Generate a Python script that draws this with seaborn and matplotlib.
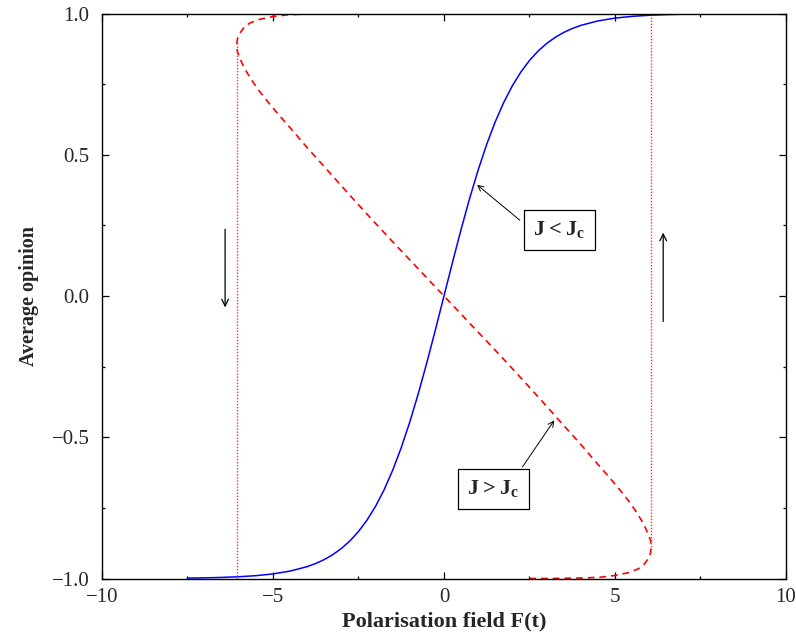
import matplotlib
matplotlib.use("Agg")
import matplotlib.pyplot as plt
import seaborn as sns
import pandas as pd
from matplotlib.ticker import MultipleLocator, FuncFormatter

# Mean opinion versus polarisation field, below the critical coupling (J < Jc)
field_weak = [-7.5, -7.0, -6.5, -6.0, -5.5, -5.0, -4.5, -4.0, -3.75, -3.5, -3.25,
              -3.0, -2.75, -2.5, -2.25, -2.0, -1.75, -1.5, -1.25, -1.0, -0.75,
              -0.5, -0.25, 0.0, 0.25, 0.5, 0.75, 1.0, 1.25, 1.5, 1.75, 2.0, 2.25,
              2.5, 2.75, 3.0, 3.25, 3.5, 3.75, 4.0, 4.5, 5.0, 5.5, 6.0, 6.5, 7.0, 7.5]
opinion_weak = [-0.9985, -0.9976, -0.9961, -0.9937, -0.9899, -0.9837, -0.9737,
                -0.9579, -0.9468, -0.9329, -0.9154, -0.8937, -0.8668, -0.8337,
                -0.7932, -0.7443, -0.6858, -0.6169, -0.5370, -0.4462, -0.3452,
                -0.2355, -0.1194, 0.0, 0.1194, 0.2355, 0.3452, 0.4462, 0.5370,
                0.6169, 0.6858, 0.7443, 0.7932, 0.8337, 0.8668, 0.8937, 0.9154,
                0.9329, 0.9468, 0.9579, 0.9737, 0.9837, 0.9899, 0.9937, 0.9961,
                0.9976, 0.9985]

# Above the critical coupling (J > Jc): the S-shaped branch, traced in order
field_strong = [2.50, 3.30, 4.12, 4.60, 5.01, 5.40, 5.68, 5.85, 5.97, 6.04, 6.06,
                6.04, 5.97, 5.88, 5.78, 5.60, 5.39, 5.10, 4.80, 4.40, 4.00, 3.50,
                3.00, 2.50, 2.00, 1.50, 1.00, 0.50, 0.00,
                -0.50, -1.00, -1.50, -2.00, -2.50, -3.00, -3.50, -4.00, -4.40,
                -4.80, -5.10, -5.39, -5.60, -5.78, -5.88, -5.97, -6.04, -6.06,
                -6.04, -5.97, -5.85, -5.68, -5.40, -5.01, -4.60, -4.12, -3.30, -2.50]
opinion_strong = [-1.000, -0.9996, -0.998, -0.995, -0.989, -0.979, -0.966, -0.950,
                  -0.930, -0.910, -0.890, -0.865, -0.842, -0.818, -0.795, -0.760,
                  -0.724, -0.680, -0.637, -0.582, -0.525, -0.458, -0.390, -0.323,
                  -0.257, -0.192, -0.128, -0.064, 0.000,
                  0.064, 0.128, 0.192, 0.257, 0.323, 0.390, 0.458, 0.525, 0.582,
                  0.637, 0.680, 0.724, 0.760, 0.795, 0.818, 0.842, 0.865, 0.890,
                  0.910, 0.930, 0.950, 0.966, 0.979, 0.989, 0.995, 0.998, 0.9996, 1.000]

# Jumps of the hysteresis loop
jump_fields = [-6.06, 6.06]
jump_low = [-1.0, -0.89]
jump_high = [0.90, 1.0]

sns.set_style("ticks")
plt.rcParams["font.family"] = ["Liberation Serif", "DejaVu Serif"]
plt.rcParams["mathtext.fontset"] = "custom"
plt.rcParams["mathtext.bf"] = "Liberation Serif:bold"
plt.rcParams["mathtext.rm"] = "Liberation Serif"

fig = plt.figure(figsize=(7.96, 6.34), dpi=100)
ax = fig.add_axes([0.1281, 0.0875, 0.8593, 0.8912])

weak = pd.DataFrame({"F": field_weak, "m": opinion_weak})
strong = pd.DataFrame({"F": field_strong, "m": opinion_strong})

sns.lineplot(data=weak, x="F", y="m", sort=False, estimator=None, ax=ax,
             color="#0000ff", lw=1.1)
sns.lineplot(data=strong, x="F", y="m", sort=False, estimator=None, ax=ax,
             color="#ff0000", lw=1.2, linestyle=(0, (4, 3)))

for xf, lo, hi in zip(jump_fields, jump_low, jump_high):
    ax.vlines(xf, lo, hi, colors="#ff3030", linestyles=(0, (1, 1.2)), lw=1.0)

# Direction of sweep on each jump
arrow_kw = dict(arrowstyle="->", color="black", lw=0.9, mutation_scale=12)
ax.annotate("", xy=(-6.4, -0.05), xytext=(-6.4, 0.246), arrowprops=arrow_kw)
ax.annotate("", xy=(6.41, 0.234), xytext=(6.41, -0.10), arrowprops=arrow_kw)

# Labels for the two regimes
lab_kw = dict(arrowstyle="->", color="black", lw=0.7, mutation_scale=10)
ax.annotate("", xy=(0.906, 0.40), xytext=(2.28, 0.262), arrowprops=lab_kw)
ax.annotate("", xy=(3.27, -0.432), xytext=(2.25, -0.613), arrowprops=lab_kw)
box = dict(boxstyle="square,pad=0.42", fc="white", ec="black", lw=0.9)
ax.text(3.38, 0.234, r"$\mathbf{J < J_c}$", ha="center", va="center",
        fontsize=16, bbox=box)
ax.text(1.44, -0.683, r"$\mathbf{J > J_c}$", ha="center", va="center",
        fontsize=16, bbox=box)

ax.set_xlim(-10, 10)
ax.set_ylim(-1, 1)
ax.xaxis.set_major_locator(MultipleLocator(5))
ax.xaxis.set_minor_locator(MultipleLocator(2.5))
ax.yaxis.set_major_locator(MultipleLocator(0.5))
ax.yaxis.set_minor_locator(MultipleLocator(0.25))
ax.xaxis.set_major_formatter(FuncFormatter(lambda v, p: f"{v:.0f}".replace("-", "\u2212")))
ax.yaxis.set_major_formatter(FuncFormatter(lambda v, p: f"{v:.1f}".replace("-", "\u2212")))
ax.tick_params(which="both", direction="in", top=True, right=True,
               labelsize=15, color="black")
ax.tick_params(which="major", length=5, width=0.9)
ax.tick_params(which="minor", length=2.5, width=0.9)
ax.tick_params(axis="x", which="major", pad=7)
ax.tick_params(axis="y", which="major", pad=9)
for s in ax.spines.values():
    s.set_color("black")
    s.set_linewidth(1.0)

ax.set_xlabel("Polarisation field F(t)", fontsize=16, fontweight="bold", labelpad=3)
ax.set_ylabel("Average opinion", fontsize=14.5, fontweight="bold", labelpad=9)

fig.savefig("out.png", dpi=100)
